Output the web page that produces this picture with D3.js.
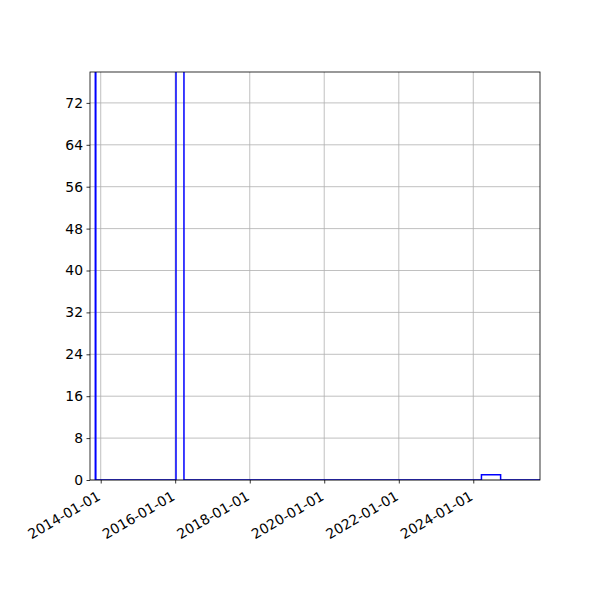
<!DOCTYPE html>
<html>
<head>
<meta charset="utf-8">
<script src="https://cdn.jsdelivr.net/npm/d3@7"></script>
<style>
body { margin:0; background:#fff; }
svg { font-family: "DejaVu Sans", sans-serif; }
</style>
</head>
<body>
<svg id="chart" width="600" height="600"></svg>
<script>
// histogram outline (step), edges + counts per bin
var binEdges = ["2013-11-09","2013-11-14","2016-01-09","2016-03-27","2024-03-21","2024-09-25","2026-01-01"];
var counts = [120, 0, 95, 0, 1, 0];
var xRange = ["2013-09-18","2025-10-16"];
var yTicks = [0,8,16,24,32,40,48,56,64,72];
var yMax = 77.9;

var parse = d3.timeParse("%Y-%m-%d");
var margin = {left:90, right:60, top:72, bottom:120};
var W = 600, H = 600;

var svg = d3.select("#chart");
var x = d3.scaleTime()
    .domain(xRange.map(parse))
    .range([margin.left, W - margin.right]);
var y = d3.scaleLinear()
    .domain([0, yMax])
    .range([H - margin.bottom, margin.top]);

var xTicks = x.ticks(d3.timeYear.every(2));

svg.append("defs").append("clipPath").attr("id","clip")
    .append("rect")
    .attr("x", margin.left).attr("y", margin.top)
    .attr("width", W - margin.left - margin.right)
    .attr("height", H - margin.top - margin.bottom);

// grid
var grid = svg.append("g");
grid.selectAll(".gx").data(xTicks).enter().append("line")
    .attr("x1", d => x(d)).attr("x2", d => x(d))
    .attr("y1", margin.top).attr("y2", H - margin.bottom)
    .attr("stroke","#b0b0b0").attr("stroke-width",0.8);
grid.selectAll(".gy").data(yTicks).enter().append("line")
    .attr("x1", margin.left).attr("x2", W - margin.right)
    .attr("y1", d => y(d)).attr("y2", d => y(d))
    .attr("stroke","#b0b0b0").attr("stroke-width",0.8);

// step outline
var pts = [[parse(binEdges[0]), 0]];
counts.forEach(function(c, i){
    pts.push([parse(binEdges[i]), c]);
    pts.push([parse(binEdges[i+1]), c]);
});
pts.push([parse(binEdges[binEdges.length-1]), 0]);

var line = d3.line().x(d => x(d[0])).y(d => y(d[1]));
svg.append("path")
    .attr("clip-path","url(#clip)")
    .attr("d", line(pts))
    .attr("fill","none")
    .attr("stroke","#0000ff")
    .attr("stroke-width",1.5)
    .attr("stroke-linejoin","miter");

// axes
var xAxis = svg.append("g")
    .attr("transform","translate(0," + (H - margin.bottom) + ")")
    .call(d3.axisBottom(x).tickValues(xTicks).tickFormat(d3.timeFormat("%Y-%m-%d")).tickSize(3.5).tickSizeOuter(0))
    .attr("font-family","DejaVu Sans");
xAxis.select(".domain").remove();
xAxis.selectAll("line").attr("stroke","#000").attr("stroke-width",0.8);
xAxis.selectAll("text")
    .attr("font-size","13.9px")
    .attr("fill","#000")
    .attr("text-anchor","end")
    .attr("dy",null)
    .attr("y",0)
    .attr("dominant-baseline","hanging")
    .attr("transform","translate(-5,10) rotate(-30)");

var yAxis = svg.append("g")
    .attr("transform","translate(" + margin.left + ",0)")
    .call(d3.axisLeft(y).tickValues(yTicks).tickSize(3.5).tickPadding(3.5).tickSizeOuter(0))
    .attr("font-family","DejaVu Sans");
yAxis.select(".domain").remove();
yAxis.selectAll("line").attr("stroke","#000").attr("stroke-width",0.8);
yAxis.selectAll("text").attr("font-size","13.9px").attr("fill","#000");

// frame
svg.append("rect")
    .attr("x", margin.left).attr("y", margin.top)
    .attr("width", W - margin.left - margin.right)
    .attr("height", H - margin.top - margin.bottom)
    .attr("fill","none").attr("stroke","#000").attr("stroke-width",0.8);
</script>
</body>
</html>
